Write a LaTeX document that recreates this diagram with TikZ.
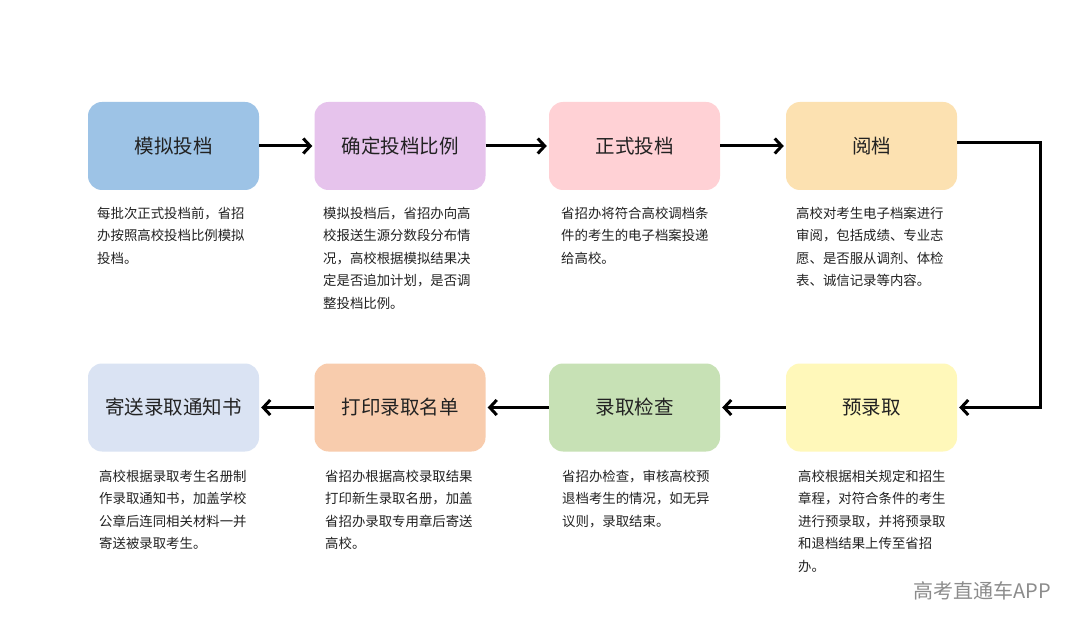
\documentclass[tikz,border=0pt]{standalone}
\usepackage{fontspec}
\setmainfont{Noto Sans CJK SC}
\usetikzlibrary{arrows.meta}
\definecolor{cA}{HTML}{9DC3E6}
\definecolor{cB}{HTML}{E6C3EC}
\definecolor{cC}{HTML}{FFD1D5}
\definecolor{cD}{HTML}{FCE1B1}
\definecolor{cE}{HTML}{FFF8BA}
\definecolor{cF}{HTML}{C7E1B5}
\definecolor{cG}{HTML}{F8CCAD}
\definecolor{cH}{HTML}{DAE3F3}
\definecolor{txt}{HTML}{222222}
\begin{document}
\begin{tikzpicture}[x=1pt,y=-1pt,
  stepbox/.style={rounded corners=14pt, minimum width=171pt, minimum height=88pt, inner sep=0pt, font=\fontsize{19.5}{22}\selectfont, text=txt},
  desc/.style={anchor=north west, align=left, inner sep=0pt, font=\fontsize{13.4}{22.4}\selectfont, text=txt},
  flow/.style={line width=3pt, -{Straight Barb[length=7pt,width=15pt,line width=3pt]}, shorten >=2pt}
]
\useasboundingbox (0,0) rectangle (1080,631);
\fill[white] (0,0) rectangle (1080,631);
% top row
\node[stepbox, fill=cA] (b1) at (173.5,146) {模拟投档};
\node[stepbox, fill=cB] (b2) at (400,146) {确定投档比例};
\node[stepbox, fill=cC] (b3) at (634.5,146) {正式投档};
\node[stepbox, fill=cD] (b4) at (871.5,146) {阅档};
% bottom row
\node[stepbox, fill=cE] (b5) at (871.5,407.5) {预录取};
\node[stepbox, fill=cF] (b6) at (634.5,407.5) {录取检查};
\node[stepbox, fill=cG] (b7) at (400,407.5) {打印录取名单};
\node[stepbox, fill=cH] (b8) at (173.5,407.5) {寄送录取通知书};
% descriptions
\node[desc] (d1) at (97,207) {每批次正式投档前，省招\\办按照高校投档比例模拟\\投档。};
\node[desc] (d2) at (323,207) {模拟投档后，省招办向高\\校报送生源分数段分布情\\况，高校根据模拟结果决\\定是否追加计划，是否调\\整投档比例。};
\node[desc] (d3) at (561,207) {省招办将符合高校调档条\\件的考生的电子档案投递\\给高校。};
\node[desc] (d4) at (796,207) {高校对考生电子档案进行\\审阅，包括成绩、专业志\\愿、是否服从调剂、体检\\表、诚信记录等内容。};
\node[desc] (d5) at (798,470) {高校根据相关规定和招生\\章程，对符合条件的考生\\进行预录取，并将预录取\\和退档结果上传至省招\\办。};
\node[desc] (d6) at (562,470) {省招办检查，审核高校预\\退档考生的情况，如无异\\议则，录取结束。};
\node[desc] (d7) at (325,470) {省招办根据高校录取结果\\打印新生录取名册，加盖\\省招办录取专用章后寄送\\高校。};
\node[desc] (d8) at (99,470) {高校根据录取考生名册制\\作录取通知书，加盖学校\\公章后连同相关材料一并\\寄送被录取考生。};
% connectors
\draw[flow] (b1) -- (b2);
\draw[flow] (b2) -- (b3);
\draw[flow] (b3) -- (b4);
\coordinate (c1) at (1040,143);
\coordinate (c2) at (1040,407.5);
\draw[flow] (b4.east |- c1) -- (c1) -- (c2) -- (b5.east |- c2);
\draw[flow] (b5) -- (b6);
\draw[flow] (b6) -- (b7);
\draw[flow] (b7) -- (b8);
% watermark
\node[anchor=east, inner sep=0pt, font=\fontsize{20}{22}\selectfont, text=black!45] (wm) at (1051,591) {高考直通车APP};
\end{tikzpicture}
\end{document}
